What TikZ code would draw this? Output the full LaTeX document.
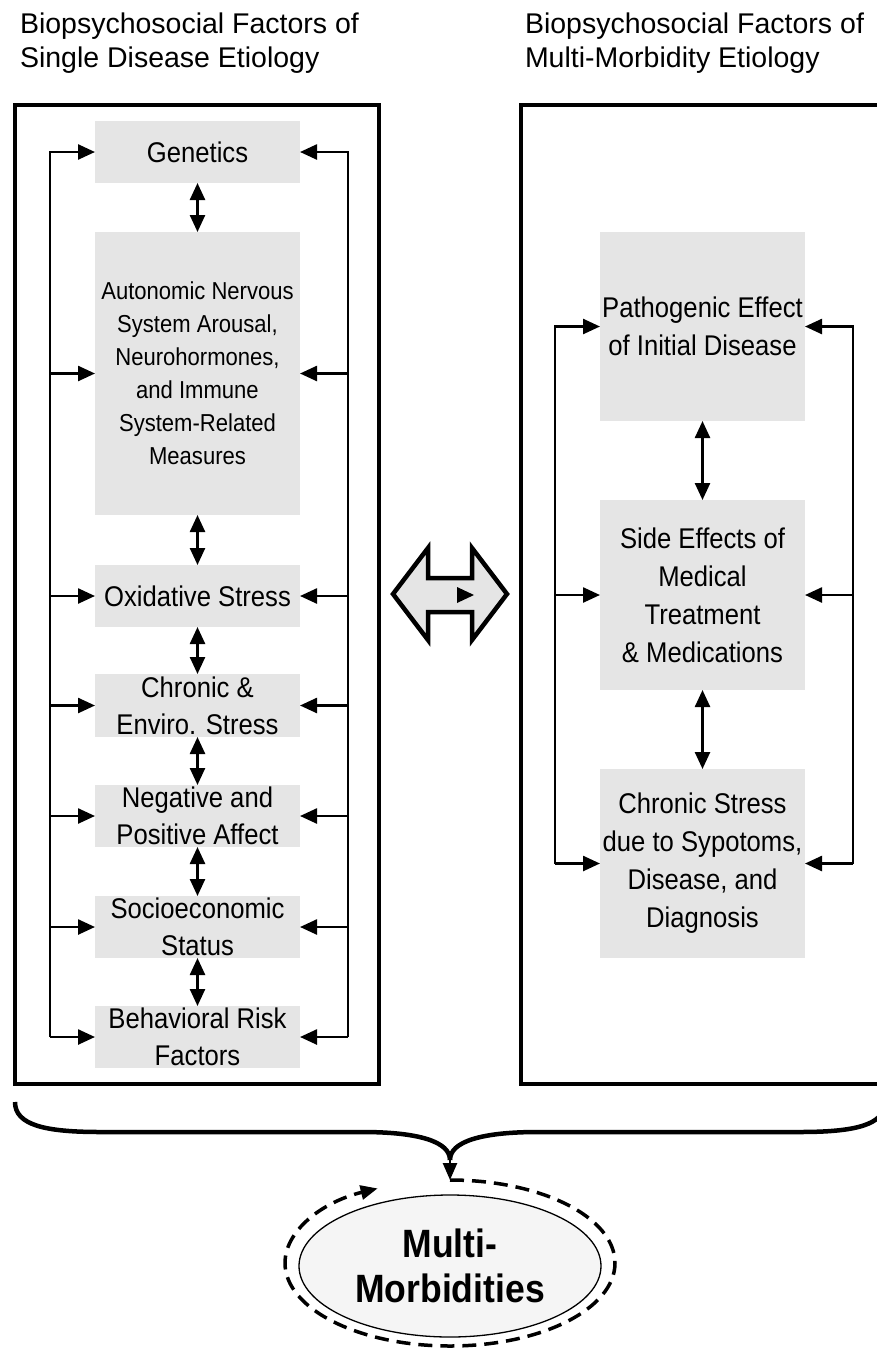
\documentclass[tikz,border=0pt]{standalone}
\usepackage{fontspec}
\setmainfont{Liberation Sans}
\newfontfamily\narrowfont[FakeStretch=0.9]{Liberation Sans}
\usetikzlibrary{arrows.meta,shapes.geometric}
\begin{document}
\begin{tikzpicture}[x=1pt,y=-1pt,
  every node/.style={inner sep=0pt, outer sep=0pt},
  factor/.style={fill=gray!20, minimum width=205pt},
  ftext/.style={align=center, font=\narrowfont\fontsize{28.5}{37}\selectfont},
  ftextsmall/.style={align=center, font=\narrowfont\fontsize{24.5}{33}\selectfont},
  rtext/.style={align=center, font=\narrowfont\fontsize{28.5}{38}\selectfont},
  title/.style={anchor=base west, font=\fontsize{28.5}{34}\selectfont},
  frame/.style={line width=4.5pt},
  tip/.style={Triangle[length=17pt,width=15pt]},
  link/.style={line width=2.5pt, -{Triangle[length=17pt,width=15pt]}},
  dlink/.style={line width=2.5pt, {Triangle[length=17pt,width=15pt]}-{Triangle[length=17pt,width=15pt]}},
]
\useasboundingbox (0,0) rectangle (876,1355);

% titles
\node[title] (t1a) at (20,33) {Biopsychosocial Factors of};
\node[title] (t1b) at (20,67) {Single Disease Etiology};
\node[title] (t2a) at (525,33) {Biopsychosocial Factors of};
\node[title] (t2b) at (525,67) {Multi-Morbidity Etiology};

% frames
\draw[frame] (15,105) rectangle (379,1084);
\draw[frame] (521,105) rectangle (885,1084);

% left column
\node[factor, minimum height=62pt, label={[ftext]center:Genetics}] (gen) at (197.5,152) {};
\node[factor, minimum height=283pt, label={[ftextsmall]center:{Autonomic Nervous\\System Arousal,\\Neurohormones,\\and Immune\\System-Related\\Measures}}] (ans) at (197.5,373.5) {};
\node[factor, minimum height=62pt, label={[ftext]center:Oxidative Stress}] (ox) at (197.5,596) {};
\node[factor, minimum height=63pt, label={[ftext]center:{Chronic \&\\Enviro. Stress}}] (chr) at (197.5,705.5) {};
\node[factor, minimum height=62pt, label={[ftext]center:{Negative and\\Positive Affect}}] (neg) at (197.5,816) {};
\node[factor, minimum height=62pt, label={[ftext]center:{Socioeconomic\\Status}}] (ses) at (197.5,927) {};
\node[factor, minimum height=62pt, label={[ftext]center:{Behavioral Risk\\Factors}}] (beh) at (197.5,1037) {};

\coordinate (LX) at (50,0);
\coordinate (RX) at (348,0);
\draw[link] (beh.west -| LX) -- (gen.west -| LX) -- (gen.west);
\draw[link] (beh.east -| RX) -- (gen.east -| RX) -- (gen.east);
\foreach \n in {ans,ox,chr,neg,ses,beh}{
  \draw[link] (\n.west -| LX) -- (\n.west);
  \draw[link] (\n.east -| RX) -- (\n.east);
}
\draw[dlink] (gen.south) -- (ans.north);
\draw[dlink] (ans.south) -- (ox.north);
\draw[dlink] (ox.south) -- (chr.north);
\draw[dlink] (chr.south) -- (neg.north);
\draw[dlink] (neg.south) -- (ses.north);
\draw[dlink] (ses.south) -- (beh.north);

% right column
\node[factor, minimum height=189pt, label={[rtext]center:{Pathogenic Effect\\of Initial Disease}}] (pat) at (702.5,326.5) {};
\node[factor, minimum height=190pt, label={[rtext]center:{Side Effects of\\Medical\\Treatment\\\& Medications}}] (side) at (702.5,595) {};
\node[factor, minimum height=189pt, label={[rtext]center:{Chronic Stress\\due to Sypotoms,\\Disease, and\\Diagnosis}}] (cs) at (702.5,863.5) {};

\coordinate (LX2) at (555,0);
\coordinate (RX2) at (853,0);
\draw[link] (cs.west -| LX2) -- (pat.west -| LX2) -- (pat.west);
\draw[link] (cs.east -| RX2) -- (pat.east -| RX2) -- (pat.east);
\draw[link] (side.west -| LX2) -- (side.west);
\draw[link] (side.east -| RX2) -- (side.east);
\draw[link] (cs.west -| LX2) -- (cs.west);
\draw[link] (cs.east -| RX2) -- (cs.east);
\draw[dlink] (pat.south) -- (side.north);
\draw[dlink] (side.south) -- (cs.north);

% central double block arrow
\draw[line width=4.5pt, fill=gray!20, line join=miter]
  (393,594) -- (428,548) -- (428,578) -- (472,578) -- (472,548) -- (507,594)
  -- (472,640) -- (472,612) -- (428,612) -- (428,640) -- cycle;
\fill (457,587) -- (474,595) -- (457,603) -- cycle;

% brace
\coordinate (bt) at (450,1160);
\coordinate (dtop) at (450,1180);
\draw[line width=4.5pt]
  (15,1102) .. controls (15,1125) and (45,1132) .. (100,1132) -- (362,1132)
  .. controls (420,1132) and (450,1142) .. (bt);
\draw[line width=4.5pt]
  (bt) .. controls (450,1142) and (480,1132) .. (538,1132) -- (800,1132)
  .. controls (855,1132) and (885,1125) .. (885,1102);
\draw[line width=2.5pt, -{Triangle[length=17pt,width=14pt]}] (bt) -- (dtop);

% outcome
\node[ellipse, draw, line width=1.3pt, fill=gray!8, minimum width=302pt, minimum height=142pt,
  align=center, font=\narrowfont\bfseries\fontsize{39.5}{45}\selectfont] (mm) at (450,1266) {Multi-\\Morbidities};
\draw[line width=3.5pt, dash pattern=on 14pt off 8pt, -{Triangle[length=17pt,width=14pt]}]
  (dtop) arc[start angle=-90, end angle=244, x radius=165, y radius=83];
\end{tikzpicture}
\end{document}
